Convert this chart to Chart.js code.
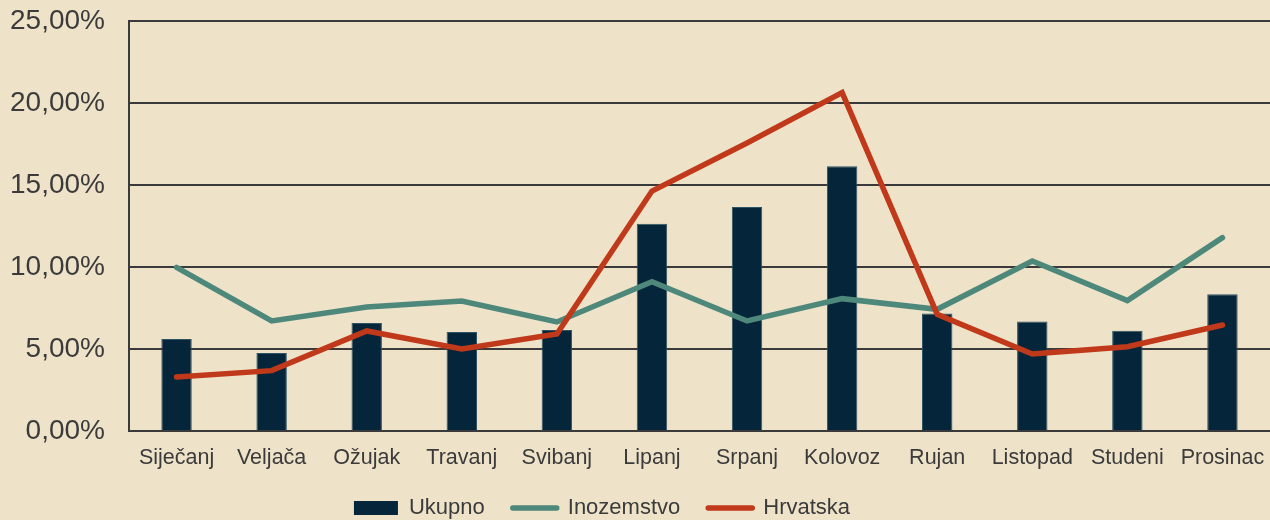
<!DOCTYPE html>
<html>
<head>
<meta charset="utf-8">
<script src="https://cdn.jsdelivr.net/npm/chart.js@4"></script>
<style>
  html, body { margin: 0; padding: 0; background: #EEE3C9; }
  #wrap { width: 1270px; height: 520px; }
</style>
</head>
<body>
<div id="wrap"><canvas id="c" width="1270" height="520"></canvas></div>
<script>
const categories = ['Siječanj','Veljača','Ožujak','Travanj','Svibanj','Lipanj','Srpanj','Kolovoz','Rujan','Listopad','Studeni','Prosinac'];
const ukupno = [5.61, 4.76, 6.59, 6.04, 6.16, 12.64, 13.66, 16.14, 7.17, 6.67, 6.12, 8.34];
const inozemstvo = [9.98, 6.71, 7.56, 7.93, 6.65, 9.10, 6.71, 8.07, 7.42, 10.37, 7.95, 11.79];
const hrvatska = [3.29, 3.68, 6.10, 5.00, 5.91, 14.63, 17.56, 20.63, 7.11, 4.70, 5.14, 6.46];
const yTicks = [0, 5, 10, 15, 20, 25];

const textColor = '#3b3b3b';
const gridColor = '#3a3a3a';
const barColor = '#05253A';
const tealColor = '#4E887B';
const redColor = '#C0391B';

const legendShift = {
  id: 'legendShift',
  afterLayout(chart) {
    const lg = chart.legend;
    if (lg) { lg.left -= 33; lg.right -= 33; lg.top -= 2; lg.bottom -= 2; }
  }
};

new Chart(document.getElementById('c'), {
  data: {
    labels: categories,
    datasets: [
      { type: 'bar', label: 'Ukupno', data: ukupno, backgroundColor: barColor, borderColor: '#2f5563', borderWidth: 1, order: 3, barPercentage: 0.64, categoryPercentage: 0.5 },
      { type: 'line', label: 'Inozemstvo', data: inozemstvo, borderColor: tealColor, backgroundColor: tealColor, borderWidth: 5.5, pointRadius: 0, tension: 0, borderCapStyle: 'round', order: 2 },
      { type: 'line', label: 'Hrvatska', data: hrvatska, borderColor: redColor, backgroundColor: redColor, borderWidth: 5.5, pointRadius: 0, tension: 0, borderCapStyle: 'round', order: 1 }
    ]
  },
  plugins: [legendShift],
  options: {
    responsive: false,
    animation: false,
    layout: { padding: { top: 21, right: 0, bottom: -11, left: 0 } },
    plugins: {
      tooltip: { enabled: false },
      legend: {
        position: 'bottom',
        labels: {
          color: textColor,
          font: { family: 'Liberation Sans', size: 22 },
          usePointStyle: true,
          pointStyleWidth: 44,
          boxHeight: 14,
          padding: 28,
          generateLabels: (chart) => chart.data.datasets.map((ds, i) => ({
            text: ds.label,
            fillStyle: ds.type === 'bar' ? ds.backgroundColor : ds.borderColor,
            strokeStyle: ds.type === 'bar' ? ds.backgroundColor : ds.borderColor,
            lineWidth: ds.type === 'bar' ? 0 : 5.5,
            lineCap: 'round',
            pointStyle: ds.type === 'bar' ? 'rect' : 'line',
            fontColor: textColor,
            hidden: false,
            datasetIndex: i
          }))
        }
      }
    },
    scales: {
      x: {
        offset: true,
        grid: { display: false, drawTicks: false },
        border: { display: true, color: gridColor, width: 2 },
        ticks: { color: textColor, font: { family: 'Liberation Sans', size: 21.5 }, padding: 14, maxRotation: 0, autoSkip: false },
        afterFit: (scale) => { scale.height = 40; scale.paddingLeft = 0; scale.paddingRight = 0; }
      },
      y: {
        min: 0, max: 25,
        afterBuildTicks: (scale) => { scale.ticks = yTicks.map(v => ({ value: v })); },
        afterFit: (scale) => { scale.width = 129; scale.paddingTop = 0; scale.paddingBottom = 0; },
        grid: { color: gridColor, lineWidth: 2, drawTicks: false },
        border: { display: true, color: gridColor, width: 2 },
        ticks: {
          color: textColor,
          font: { family: 'Liberation Sans', size: 28 },
          padding: 24,
          callback: (v) => v.toFixed(2).replace('.', ',') + '%'
        }
      }
    }
  }
});
</script>
</body>
</html>
